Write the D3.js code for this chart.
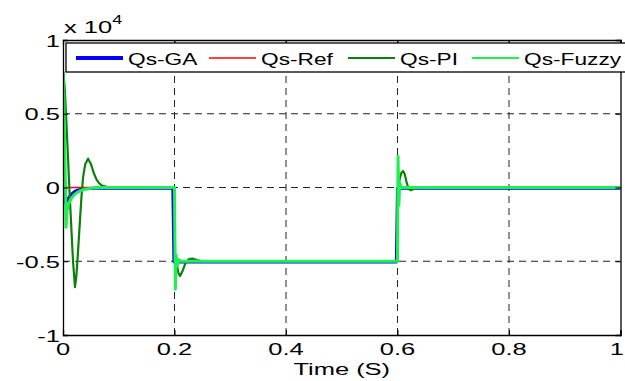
<!DOCTYPE html>
<html>
<head>
<meta charset="utf-8">
<script src="https://cdn.jsdelivr.net/npm/d3@7"></script>
<style>
  html, body { margin: 0; padding: 0; background: #fff; }
  svg { display: block; font-family: "Liberation Sans", Arial, Helvetica, sans-serif; }
</style>
</head>
<body>
<svg id="chart" width="625" height="381"></svg>
<script>
// Reactive power Qs (VAr) against time (s) for each controller
const qsRef = [[0,0],[0.2,0],[0.2,-5000],[0.6,-5000],[0.6,0],[1,0]];

const qsGA = [[0,0],[0.0005,4200],[0.002,1500],[0.004,-1000],[0.007,-900],[0.01,-700],
  [0.015,-450],[0.02,-300],[0.025,-200],[0.03,-140],[0.04,-90],[0.05,-60],[0.06,-50],
  [0.197,-50],[0.199,-5050],[0.598,-5050],[0.6,-50],[1,-50]];

const qsPI = [[0,0],[0.0005,7800],[0.003,6800],[0.006,4500],[0.009,2000],[0.012,-500],
  [0.015,-2800],[0.018,-5000],[0.0215,-6750],[0.024,-6000],[0.027,-4300],[0.03,-2500],
  [0.033,-700],[0.036,700],[0.04,1600],[0.045,1950],[0.05,1600],[0.055,1000],[0.06,550],
  [0.065,280],[0.07,130],[0.08,30],[0.09,0],[0.2,0],[0.201,-4800],[0.204,-5200],
  [0.207,-5800],[0.21,-6000],[0.214,-5700],[0.22,-5100],[0.226,-4850],[0.232,-4820],
  [0.24,-4920],[0.25,-5000],[0.6,-5000],[0.601,-200],[0.604,600],[0.607,1000],
  [0.61,1120],[0.613,900],[0.616,400],[0.62,-100],[0.624,-180],[0.63,-80],[0.64,0],[1,0]];

const qsFuzzy = [[0,0],[0.0005,7800],[0.002,5000],[0.004,1000],[0.0055,-2700],[0.007,-1600],
  [0.01,-1100],[0.015,-750],[0.02,-500],[0.025,-350],[0.03,-240],[0.04,-110],[0.05,-50],
  [0.06,-15],[0.07,0],[0.2,0],[0.2015,-6900],[0.203,-4600],[0.205,-5300],[0.208,-4900],
  [0.212,-5000],[0.6,-5000],[0.6005,-1000],[0.601,2100],[0.6025,-1200],[0.604,300],
  [0.607,0],[1,0]];

const xTicks = [0, 0.2, 0.4, 0.6, 0.8, 1];
const xTickLabels = ["0", "0.2", "0.4", "0.6", "0.8", "1"];
const yTicks = [-10000, -5000, 0, 5000, 10000];
const yTickLabels = ["-1", "-0.5", "0", "0.5", "1"];
const legendNames = ["Qs-GA", "Qs-Ref", "Qs-PI", "Qs-Fuzzy"];

const series = [
  { name: "Qs-GA", data: qsGA, color: "#0000ff", width: 3, legendWidth: 4 },
  { name: "Qs-Ref", data: qsRef, color: "#ff0000", width: 1.3, legendWidth: 1.6 },
  { name: "Qs-PI", data: qsPI, color: "#0a820a", width: 2.2, legendWidth: 2 },
  { name: "Qs-Fuzzy", data: qsFuzzy, color: "#1ef050", width: 3, legendWidth: 2.2 }
];

const svg = d3.select("#chart");
const L = 63, R = 620.5, T = 40, B = 335;
const SX = 1.5; // horizontal stretch of the label glyphs

const x = d3.scaleLinear().domain([0, 1]).range([L, R]);
const y = d3.scaleLinear().domain([-10000, 10000]).range([B, T]);

// text helper: places a horizontally stretched label
function label(parent, px, py, txt, size, anchor, sx) {
  return parent.append("text")
    .attr("transform", `translate(${px},${py}) scale(${sx || SX},1)`)
    .attr("text-anchor", anchor || "start")
    .attr("font-size", size).attr("fill", "#000")
    .text(txt);
}

// dashed grid
const grid = svg.append("g").attr("stroke", "#222").attr("stroke-width", 1)
  .attr("stroke-dasharray", "7,5");
grid.selectAll("line.v").data(xTicks.slice(1, -1)).join("line")
  .attr("x1", d => x(d)).attr("x2", d => x(d)).attr("y1", T).attr("y2", B);
grid.selectAll("line.h").data(yTicks.slice(1, -1)).join("line")
  .attr("x1", L).attr("x2", R).attr("y1", d => y(d)).attr("y2", d => y(d));

// curves
const line = d3.line().x(d => x(d[0])).y(d => y(d[1]));
svg.append("clipPath").attr("id", "plotclip")
  .append("rect").attr("x", L).attr("y", T).attr("width", R - L).attr("height", B - T);
svg.append("g").attr("clip-path", "url(#plotclip)")
  .selectAll("path").data(series).join("path")
  .attr("d", d => line(d.data))
  .attr("fill", "none")
  .attr("stroke", d => d.color)
  .attr("stroke-width", d => d.width)
  .attr("stroke-linejoin", "round");

// axes frame with inward ticks
const xAxis = svg.append("g").attr("transform", `translate(0,${B})`)
  .call(d3.axisBottom(x).tickValues(xTicks).tickSize(-5).tickFormat(""));
const yAxis = svg.append("g").attr("transform", `translate(${L},0)`)
  .call(d3.axisLeft(y).tickValues(yTicks).tickSize(-5).tickFormat(""));
const xTop = svg.append("g").attr("transform", `translate(0,${T})`)
  .call(d3.axisTop(x).tickValues(xTicks).tickSize(-5).tickFormat(""));
const yRight = svg.append("g").attr("transform", `translate(${R},0)`)
  .call(d3.axisRight(y).tickValues(yTicks).tickSize(-5).tickFormat(""));
[xAxis, yAxis, xTop, yRight].forEach(g => {
  g.select(".domain").attr("stroke", "#000").attr("stroke-width", 1.3);
  g.selectAll(".tick line").attr("stroke", "#000");
});

// tick labels (the last one is kept inside the page edge)
const labels = svg.append("g");
xTicks.forEach((t, i) => {
  const last = i === xTicks.length - 1;
  label(labels, last ? 624 : x(t), 355, xTickLabels[i], 17, last ? "end" : "middle");
});
yTicks.forEach((v, i) => label(labels, 60, y(v) + 6.5, yTickLabels[i], 17, "end"));

// exponent label
const ex = label(svg, 64, 33, "x 10", 17, "start");
ex.append("tspan").attr("font-size", 12).attr("dy", -9).text("4");

// x axis title
label(svg, (L + R) / 2, 375, "Time (S)", 17, "middle");

// legend
const lg = svg.append("g");
lg.append("rect").attr("x", 66).attr("y", 43).attr("width", 600).attr("height", 29)
  .attr("fill", "#fff").attr("stroke", "#000").attr("stroke-width", 1.3);
const legendX = [76, 209, 348, 472];
const items = lg.selectAll("g.item").data(series).join("g")
  .attr("transform", (d, i) => `translate(${legendX[i]},58)`);
items.append("line").attr("x1", 0).attr("x2", 47).attr("y1", 0).attr("y2", 0)
  .attr("stroke", d => d.color).attr("stroke-width", d => d.legendWidth);
items.each(function (d, i) { label(d3.select(this), 52, 6.5, legendNames[i], 16, "start", 1.42); });
</script>
</body>
</html>
